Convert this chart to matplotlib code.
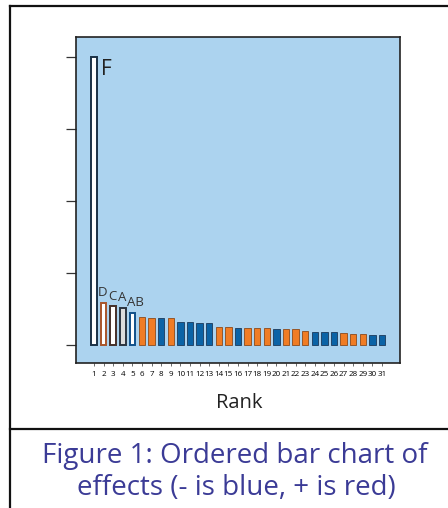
import matplotlib
matplotlib.use("Agg")
import matplotlib.pyplot as plt
from matplotlib.lines import Line2D

plt.rcParams['font.family'] = ['Open Sans', 'DejaVu Sans']

# ordered absolute effects (rank 1 = largest)
ranks = list(range(1, 32))
effects = [4.0, 0.59, 0.54, 0.52, 0.45, 0.39, 0.38, 0.38, 0.38, 0.315, 0.315,
           0.30, 0.30, 0.25, 0.25, 0.23, 0.23, 0.23, 0.23, 0.218, 0.218, 0.218,
           0.20, 0.185, 0.185, 0.185, 0.167, 0.153, 0.153, 0.14, 0.14]
signs = ['-', '+', '+', '-', '-', '+', '+', '-', '+', '-', '-', '-', '-', '+', '+',
         '-', '+', '+', '+', '-', '+', '+', '+', '-', '-', '-', '+', '+', '+', '-', '-']
named = ['F', 'D', 'C', 'A', 'AB']   # significant effects, drawn hollow
yticks = [0, 1, 2, 3, 4]

W, H = 448, 508
fig = plt.figure(figsize=(W / 100, H / 100), dpi=100)
fig.patch.set_facecolor('white')
ax = fig.add_axes([76 / W, 1 - 363 / H, (400 - 76) / W, (363 - 37) / H])
ax.set_facecolor('#acd3ef')

fill = {'-': '#0b63a6', '+': '#f07c24'}
edge = {'-': '#1b3a5c', '+': '#8c4a1c'}
hollow_edge = ['#1b3146', '#a8552a', '#45302a', '#2b3440', '#10508a']
hollow_fill = ['white', 'white', 'white', '#dcdcdc', 'white']

for i, (r, v, s) in enumerate(zip(ranks, effects, signs)):
    if i < len(named):
        ax.bar(r, v, width=0.58, color=hollow_fill[i], edgecolor=hollow_edge[i],
               linewidth=1.4, zorder=3)
    else:
        ax.bar(r, v, width=0.68, color=fill[s], edgecolor=edge[s],
               linewidth=0.6, zorder=3)

# effect names
ax.text(ranks[0] + 0.75, effects[0] - 0.03, named[0], ha='left', va='top',
        fontsize=15, color='#222222')
nudge = [-0.15, -0.05, -0.1, 0.35]
for r, v, lab, dx in zip(ranks[1:5], effects[1:5], named[1:], nudge):
    ax.text(r + dx, v + 0.05, lab, ha='center', va='bottom', fontsize=9.5,
            color='#333333')

ax.set_xlim(-0.875, 32.875)
ax.set_ylim(-0.25, 4.28)
ax.set_yticks(yticks)
ax.set_yticklabels([])
ax.tick_params(axis='y', length=7, width=0.9, color='#333333')
ax.set_xticks(ranks)
ax.set_xticklabels([str(r) for r in ranks], fontsize=5.8)
ax.tick_params(axis='x', length=2.5, width=0.6, pad=3, color='#555555')
for sp in ax.spines.values():
    sp.set_linewidth(1.2)
    sp.set_color('#222222')

fig.text(239 / W, 1 - 403 / H, 'Rank', ha='center', va='center', fontsize=14.5,
         color='#222222')

# page frame and caption
lc = '#111111'
fig.add_artist(Line2D([10 / W, 10 / W], [0, 1 - 6 / H], color=lc, lw=1.6,
                      transform=fig.transFigure))
fig.add_artist(Line2D([10 / W, 1], [1 - 6 / H, 1 - 6 / H], color=lc, lw=1.6,
                      transform=fig.transFigure))
fig.add_artist(Line2D([10 / W, 1], [1 - 429 / H, 1 - 429 / H], color=lc, lw=1.6,
                      transform=fig.transFigure))
cap = '#3b3b96'
fig.text(235 / W, 1 - 463 / H, 'Figure 1: Ordered bar chart of', ha='center',
         va='baseline', fontsize=20, color=cap)
fig.text(236 / W, 1 - 495 / H, 'effects (- is blue, + is red)', ha='center',
         va='baseline', fontsize=20, color=cap)

fig.savefig('out.png', dpi=100)
